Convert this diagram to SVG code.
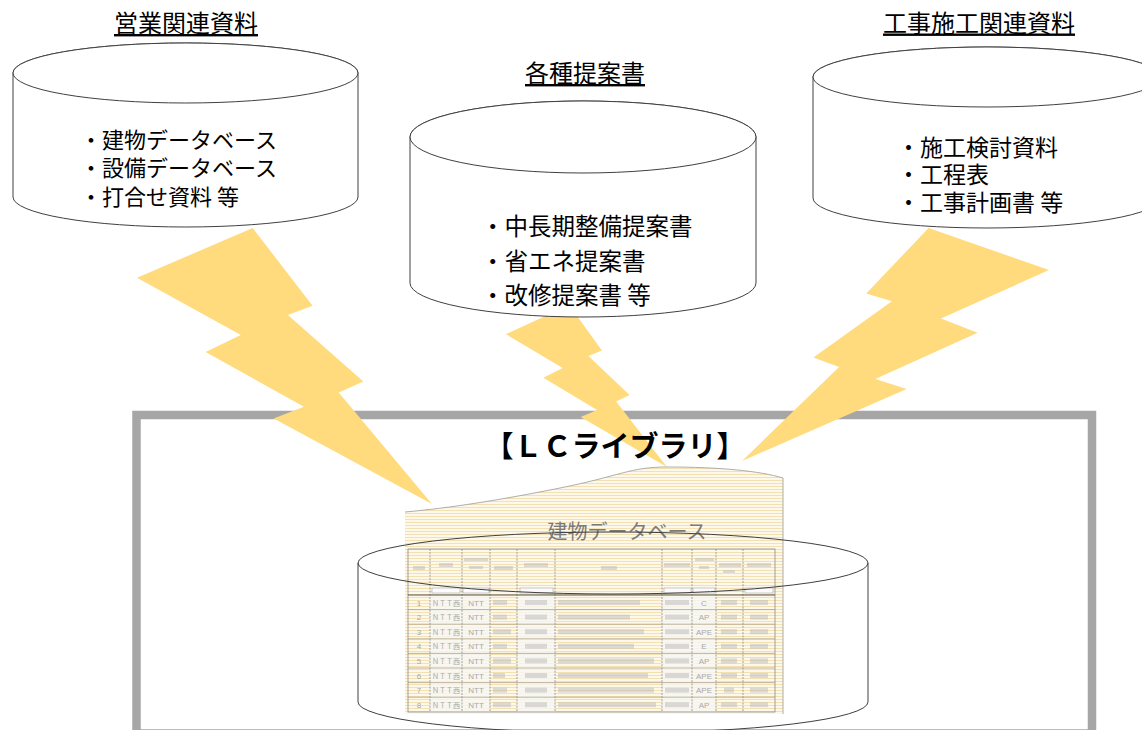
<svg xmlns="http://www.w3.org/2000/svg" width="1142" height="730" viewBox="0 0 1142 730">
  <style>
    .jp { font-family: 'Noto Sans CJK JP', 'Noto Sans', sans-serif; fill: #000; }
    .ttl { font-size: 24px; text-anchor: middle; text-decoration: underline; }
    .cyl { fill: #fff; stroke: #404040; stroke-width: 1; }
    .cylo { fill: none; stroke: #404040; stroke-width: 1; }
    .bolt { fill: #ffdb7d; stroke: none; }
    .cell { font-family: 'Liberation Sans', 'Noto Sans CJK JP', sans-serif; font-size: 8px; fill: #a8a8a8; text-anchor: middle; }
    .blur { fill: #c0c0c0; opacity: 0.55; }
    .vl { stroke: #8a8a8a; stroke-width: 0.8; stroke-dasharray: 2 1.2; }
    .hl { stroke: #a89a78; stroke-width: 0.7; }
    .wcol { fill: #f6f6f4; opacity: 0.8; }
  </style>
  <defs>
    <pattern id="stripes" width="8" height="3" patternUnits="userSpaceOnUse">
      <rect width="8" height="3" fill="#fdf8ea"/>
      <rect y="0" width="8" height="1" fill="#f3e1b2"/>
    </pattern>
  </defs>

  <!-- LC library frame -->
  <g id="lc-library-frame">
    <rect x="136.5" y="415" width="955.5" height="318.5" fill="#fff" stroke="#a6a6a6" stroke-width="8.5"/>
  </g>

  <!-- connectors: lightning bolts -->
  <g id="connectors">
    <path class="bolt" d="M252.7,228 L312.6,305.7 L287.9,314.9 L363.4,381.4 L338.7,392.5 L432,504 L273.7,418.6 L303.9,406.7 L205.6,352 L240.8,335.1 L137,277.7 Z"/>
    <path class="bolt" d="M569.1,305 L601.9,350.6 L588.4,356 L629.6,395.1 L616.1,401.6 L667,467 L580.6,416.9 L597.1,409.9 L543.4,377.8 L562.7,367.9 L506,334.2 Z"/>
    <path class="bolt" d="M928.6,228 L866.2,293.6 L891.9,301.3 L813.4,357.5 L839.1,366.9 L742,461 L906.7,388.9 L875.3,378.9 L977.6,332.7 L941,318.4 L1049,270 Z"/>
  </g>

  <!-- Sales related materials -->
  <g id="sales-materials">
    <text class="jp ttl" x="186" y="32">営業関連資料</text>
    <path class="cyl" d="M13,73 L13,197 A172.5,30 0 0 0 358,197 L358,73 A172.5,30 0 0 0 13,73 Z"/>
    <ellipse class="cyl" cx="185.5" cy="73" rx="172.5" ry="30"/>
    <text class="jp" x="80" y="147.5" font-size="22">・建物データベース</text>
    <text class="jp" x="80" y="175.5" font-size="22">・設備データベース</text>
    <text class="jp" x="80" y="204.5" font-size="22">・打合せ資料 等</text>
  </g>

  <!-- Proposals -->
  <g id="proposals">
    <text class="jp ttl" x="585" y="82">各種提案書</text>
    <path class="cyl" d="M410,137 L410,283 A173,34 0 0 0 756,283 L756,137 A173,36 0 0 0 410,137 Z"/>
    <ellipse class="cyl" cx="583" cy="137" rx="173" ry="36"/>
    <text class="jp" x="481" y="234.5" font-size="23.5">・中長期整備提案書</text>
    <text class="jp" x="481" y="269.5" font-size="23.5">・省エネ提案書</text>
    <text class="jp" x="481" y="303.5" font-size="23.5">・改修提案書 等</text>
  </g>

  <!-- Construction related materials -->
  <g id="construction-materials">
    <text class="jp ttl" x="979" y="31.5">工事施工関連資料</text>
    <path class="cyl" d="M813,77 L813,198 A174,30 0 0 0 1161,198 L1161,77 A174,30 0 0 0 813,77 Z"/>
    <ellipse class="cyl" cx="987" cy="77" rx="174" ry="30"/>
    <text class="jp" x="897" y="155.5" font-size="23">・施工検討資料</text>
    <text class="jp" x="897" y="182.5" font-size="23">・工程表</text>
    <text class="jp" x="897" y="210.5" font-size="23">・工事計画書 等</text>
  </g>

  <!-- LC library contents -->
  <g id="lc-library">
    <text class="jp" x="615" y="457" font-size="29" font-weight="bold" text-anchor="middle">【ＬＣライブラリ】</text>

    <g id="building-db-image">
      <path d="M405,512 C450,508 500,500 560,488 S630,467 667,467 C720,467 760,471 783,478 L783,714 L405,714 Z" fill="url(#stripes)"/>
      <path d="M405,512 C450,508 500,500 560,488 S630,467 667,467 C720,467 760,471 783,478 L783,714" fill="none" stroke="#9a9a9a" stroke-width="0.8"/>
      <text class="jp" x="627" y="538.5" font-size="20" text-anchor="middle" style="fill:#7a7a7a">建物データベース</text>

      <!-- white columns in data area -->
      <rect class="wcol" x="430" y="595" width="60" height="117"/>
      <rect class="wcol" x="517" y="595" width="38" height="117"/>
      <rect class="wcol" x="662" y="595" width="54" height="117"/>

      <!-- sub-row boxes -->
      <g fill="#fbfbfb" stroke="#999" stroke-width="0.5">
        <rect x="432" y="588" width="28" height="5"/>
        <rect x="463" y="588" width="26" height="5"/>
        <rect x="520" y="588" width="33" height="5"/>
        <rect x="664" y="588" width="27" height="5"/>
        <rect x="693" y="588" width="22" height="5"/>
        <rect x="745" y="588" width="28" height="5"/>
      </g>

      <!-- header placeholders (blurred) -->
      <g class="blur">
        <rect x="413" y="566" width="12" height="4"/>
        <rect x="439" y="563" width="14" height="4"/>
        <rect x="464" y="558" width="24" height="3"/>
        <rect x="469" y="566" width="14" height="3"/>
        <rect x="494" y="566" width="19" height="4"/>
        <rect x="524" y="563" width="24" height="4"/>
        <rect x="601" y="566" width="16" height="4"/>
        <rect x="664" y="563" width="26" height="4"/>
        <rect x="695" y="558" width="19" height="3"/>
        <rect x="699" y="566" width="10" height="3"/>
        <rect x="719" y="563" width="22" height="4"/>
        <rect x="723" y="570" width="12" height="3"/>
        <rect x="747" y="563" width="24" height="4"/>
      </g>

      <!-- grid -->
      <rect x="408" y="549" width="367" height="163" fill="none" stroke="#8a8a8a" stroke-width="0.8"/>
      <g class="vl">
        <line x1="430" y1="549" x2="430" y2="712"/>
        <line x1="462" y1="549" x2="462" y2="712"/>
        <line x1="490" y1="549" x2="490" y2="712"/>
        <line x1="517" y1="549" x2="517" y2="712"/>
        <line x1="555" y1="549" x2="555" y2="712"/>
        <line x1="662" y1="549" x2="662" y2="712"/>
        <line x1="692" y1="549" x2="692" y2="712"/>
        <line x1="716" y1="549" x2="716" y2="712"/>
        <line x1="743" y1="549" x2="743" y2="712"/>
      </g>
      <line x1="408" y1="595" x2="775" y2="595" stroke="#555" stroke-width="1.2"/>
      <g class="hl">
        <line x1="408" y1="609.6" x2="775" y2="609.6"/>
        <line x1="408" y1="624.2" x2="775" y2="624.2"/>
        <line x1="408" y1="638.8" x2="775" y2="638.8"/>
        <line x1="408" y1="653.4" x2="775" y2="653.4"/>
        <line x1="408" y1="668" x2="775" y2="668"/>
        <line x1="408" y1="682.6" x2="775" y2="682.6"/>
        <line x1="408" y1="697.2" x2="775" y2="697.2"/>
      </g>

      <!-- data rows -->
      <g class="cell">
        <text x="419" y="605.5">1</text><text x="419" y="620.1">2</text><text x="419" y="634.7">3</text><text x="419" y="649.3">4</text>
        <text x="419" y="663.9">5</text><text x="419" y="678.5">6</text><text x="419" y="693.1">7</text><text x="419" y="707.7">8</text>
        <g font-size="7">
          <text x="446" y="605.5">ＮＴＴ西</text><text x="446" y="620.1">ＮＴＴ西</text><text x="446" y="634.7">ＮＴＴ西</text><text x="446" y="649.3">ＮＴＴ西</text>
          <text x="446" y="663.9">ＮＴＴ西</text><text x="446" y="678.5">ＮＴＴ西</text><text x="446" y="693.1">ＮＴＴ西</text><text x="446" y="707.7">ＮＴＴ西</text>
        </g>
        <text x="476" y="605.5">NTT</text><text x="476" y="620.1">NTT</text><text x="476" y="634.7">NTT</text><text x="476" y="649.3">NTT</text>
        <text x="476" y="663.9">NTT</text><text x="476" y="678.5">NTT</text><text x="476" y="693.1">NTT</text><text x="476" y="707.7">NTT</text>
        <text x="704" y="605.5">C</text><text x="704" y="620.1">AP</text><text x="704" y="634.7">APE</text><text x="704" y="649.3">E</text>
        <text x="704" y="663.9">AP</text><text x="704" y="678.5">APE</text><text x="704" y="693.1">APE</text><text x="704" y="707.7">AP</text>
      </g>
      <g class="blur">
        <rect x="493" y="600" width="14" height="5"/><rect x="525" y="600" width="22" height="5"/><rect x="558" y="600" width="82" height="5"/><rect x="665" y="600" width="24" height="5"/><rect x="721" y="600" width="16" height="5"/><rect x="750" y="600" width="18" height="5"/>
        <rect x="493" y="614.6" width="14" height="5"/><rect x="525" y="614.6" width="22" height="5"/><rect x="558" y="614.6" width="72" height="5"/><rect x="665" y="614.6" width="24" height="5"/><rect x="721" y="614.6" width="16" height="5"/><rect x="750" y="614.6" width="18" height="5"/>
        <rect x="493" y="629.2" width="18" height="5"/><rect x="525" y="629.2" width="22" height="5"/><rect x="558" y="629.2" width="86" height="5"/><rect x="665" y="629.2" width="24" height="5"/><rect x="721" y="629.2" width="16" height="5"/><rect x="750" y="629.2" width="18" height="5"/>
        <rect x="493" y="643.8" width="14" height="5"/><rect x="525" y="643.8" width="22" height="5"/><rect x="558" y="643.8" width="76" height="5"/><rect x="665" y="643.8" width="24" height="5"/><rect x="721" y="643.8" width="16" height="5"/><rect x="750" y="643.8" width="18" height="5"/>
        <rect x="493" y="658.4" width="18" height="5"/><rect x="525" y="658.4" width="22" height="5"/><rect x="558" y="658.4" width="96" height="5"/><rect x="665" y="658.4" width="24" height="5"/><rect x="721" y="658.4" width="16" height="5"/><rect x="750" y="658.4" width="18" height="5"/>
        <rect x="493" y="673" width="12" height="5"/><rect x="525" y="673" width="22" height="5"/><rect x="558" y="673" width="90" height="5"/><rect x="665" y="673" width="24" height="5"/><rect x="721" y="673" width="16" height="5"/><rect x="750" y="673" width="18" height="5"/>
        <rect x="493" y="687.6" width="14" height="5"/><rect x="525" y="687.6" width="22" height="5"/><rect x="558" y="687.6" width="96" height="5"/><rect x="665" y="687.6" width="24" height="5"/><rect x="724" y="687.6" width="10" height="5"/><rect x="750" y="687.6" width="18" height="5"/>
        <rect x="493" y="702.2" width="18" height="5"/><rect x="525" y="702.2" width="22" height="5"/><rect x="558" y="702.2" width="98" height="5"/><rect x="665" y="702.2" width="24" height="5"/><rect x="721" y="702.2" width="16" height="5"/><rect x="750" y="702.2" width="18" height="5"/>
      </g>
    </g>

    <g id="lc-cylinder">
      <ellipse class="cylo" cx="613" cy="563" rx="255" ry="31"/>
      <path class="cylo" d="M358,563 L358,702 A255,31 0 0 0 868,702 L868,563"/>
    </g>
  </g>
</svg>
